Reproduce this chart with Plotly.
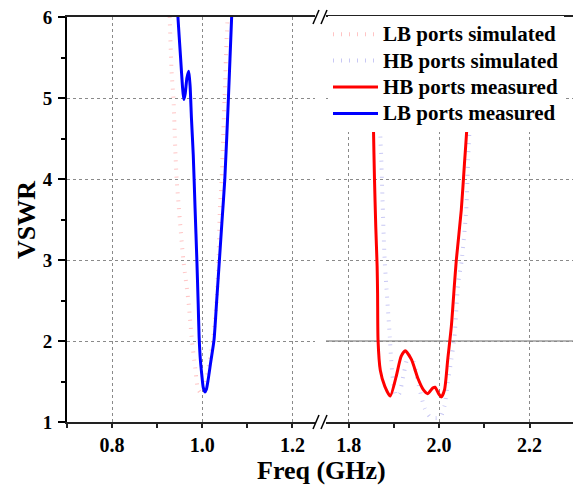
import plotly.graph_objects as go

# ---- data (GHz, VSWR) ----
lb_sim_f = [0.925, 0.928, 0.932, 0.936, 0.940, 0.943, 0.948, 0.958, 0.969, 0.977, 0.984, 0.991,
            0.999, 1.008, 1.017, 1.024, 1.032, 1.036, 1.039, 1.043, 1.047, 1.050, 1.054, 1.058]
lb_sim_v = [6.4, 5.94, 5.32, 5.00, 4.38, 4.01, 3.65, 3.00, 2.51, 2.01, 1.68, 1.40,
            1.35, 1.50, 1.77, 2.01, 2.51, 3.00, 3.62, 4.00, 4.63, 5.08, 5.74, 6.2]

hb_sim_f = [1.868, 1.870, 1.872, 1.874, 1.877, 1.880, 1.883, 1.887, 1.891, 1.894, 1.898, 1.905,
            1.912, 1.922, 1.932, 1.940, 1.955, 1.968, 1.979, 1.992, 2.003, 2.012, 2.019, 2.027,
            2.034, 2.038, 2.042, 2.050, 2.060, 2.064, 2.067, 2.075]
hb_sim_v = [6.3, 4.54, 4.28, 3.90, 3.37, 2.96, 2.71, 2.38, 2.05, 1.77, 1.52, 1.32,
            1.35, 1.60, 1.82, 1.80, 1.45, 1.17, 1.07, 1.05, 1.06, 1.20, 1.48, 1.77,
            2.05, 2.38, 2.71, 3.00, 3.62, 4.23, 4.60, 6.3]

hb_meas_f = [1.850, 1.855, 1.857, 1.860, 1.863, 1.864, 1.865, 1.870, 1.880, 1.892, 1.905, 1.916,
             1.925, 1.939, 1.953, 1.965, 1.975, 1.986, 1.991, 2.000, 2.005, 2.012, 2.019, 2.027,
             2.034, 2.038, 2.049, 2.056, 2.061, 2.074, 2.078]
hb_meas_v = [6.3, 4.60, 4.03, 3.41, 2.92, 2.59, 2.01, 1.64, 1.44, 1.32, 1.56, 1.81,
             1.88, 1.77, 1.54, 1.40, 1.35, 1.42, 1.43, 1.34, 1.31, 1.40, 1.77, 2.18,
             2.71, 3.00, 3.62, 4.19, 4.60, 6.0, 6.4]

lb_meas_f = [0.940, 0.946, 0.952, 0.956, 0.959, 0.962, 0.966, 0.970, 0.973, 0.976, 0.980, 0.984,
             0.988, 0.991, 0.993, 0.996, 0.999, 1.002, 1.006, 1.009, 1.013, 1.019, 1.026, 1.032,
             1.038, 1.044, 1.050, 1.058, 1.065, 1.070]
lb_meas_v = [6.6, 6.0, 5.49, 5.15, 4.98, 5.05, 5.25, 5.33, 5.15, 4.75, 4.30, 3.64,
             3.00, 2.45, 2.05, 1.75, 1.58, 1.43, 1.37, 1.40, 1.52, 1.75, 2.01, 2.50,
             3.00, 3.50, 4.00, 5.00, 5.98, 6.6]

names = ["LB ports simulated", "HB ports simulated", "HB ports measured", "LB ports measured"]

FONT = "Liberation Serif"
W, H = 573, 485
ML, MR, MT, MB = 67, 0, 17, 63
PW = W - ML - MR
PH = H - MT - MB


def px_x(px):
    return (px - ML) / PW


def px_y(py):
    return (H - MB - py) / PH


def leg(name):
    return "<span style='font-size:21px'>" + name + "</span>"


fig = go.Figure()
fig.add_trace(go.Scatter(x=lb_sim_f, y=lb_sim_v, name=leg(names[0]), mode="lines", xaxis="x", yaxis="y",
                         line=dict(color="#ffc4c4", width=4, dash="1px,7px", shape="spline", smoothing=0.6)))
fig.add_trace(go.Scatter(x=hb_sim_f, y=hb_sim_v, name=leg(names[1]), mode="lines", xaxis="x2", yaxis="y",
                         line=dict(color="#c8c8f4", width=4, dash="1px,7px", shape="spline", smoothing=0.6)))
fig.add_trace(go.Scatter(x=hb_meas_f, y=hb_meas_v, name=leg(names[2]), mode="lines", xaxis="x2", yaxis="y",
                         line=dict(color="#ff0000", width=3, shape="spline", smoothing=0.6)))
fig.add_trace(go.Scatter(x=lb_meas_f, y=lb_meas_v, name=leg(names[3]), mode="lines", xaxis="x", yaxis="y",
                         line=dict(color="#0000ff", width=3, shape="spline", smoothing=0.6)))

xcommon = dict(
    showline=True, linecolor="#222222", linewidth=2, mirror=True,
    ticks="outside", ticklen=4, tickwidth=1.5, tickcolor="#222222",
    showgrid=True, gridcolor="#8a8a8a", gridwidth=1, griddash="3px,3px",
    zeroline=False, tickformat=".1f", dtick=0.2, ticklabelstandoff=0,
    tickfont=dict(family=FONT, size=20, color="black", weight="bold"),
    minor=dict(dtick=0.1, ticks="outside", ticklen=4, tickwidth=1.5, tickcolor="#222222", showgrid=False),
    anchor="y",
)

fig.update_layout(
    width=W, height=H,
    margin=dict(l=ML, r=MR, t=MT, b=MB),
    paper_bgcolor="white", plot_bgcolor="white",
    showlegend=True,
    legend=dict(x=px_x(328), y=px_y(16), xanchor="left", yanchor="top",
                bgcolor="white", borderwidth=0, itemwidth=45,
                font=dict(family=FONT, size=18, color="black", weight="bold"),
                tracegroupgap=0),
    xaxis=dict(domain=[0, px_x(315)], range=[0.7, 1.25], tick0=0.8, **xcommon),
    xaxis2=dict(domain=[px_x(326), 1], range=[1.75, 1.75 + (W - 326) * 0.2 / 90.5], tick0=1.8, **xcommon),
    yaxis=dict(range=[1, 6], dtick=1, showline=True, linecolor="black", linewidth=2,
               ticks="outside", ticklen=7, tickwidth=1.5, tickcolor="black", ticklabelstandoff=2,
               showgrid=True, gridcolor="#8a8a8a", gridwidth=1, griddash="3px,3px", zeroline=False,
               tickfont=dict(family=FONT, size=19, color="black", weight="bold"),
               minor=dict(dtick=0.5, ticks="outside", ticklen=4, tickwidth=1.5, tickcolor="black", showgrid=False),
               domain=[0, 1]),
)

# reference line at VSWR = 2 on the high-band panel
fig.add_shape(type="line", xref="x2 domain", yref="y", x0=0, x1=1, y0=2, y1=2,
              line=dict(color="#b4b4b4", width=2), layer="below")

# axis break marks
for yb in (422, 17):
    for xb in (313, 321):
        fig.add_shape(type="line", xref="paper", yref="paper",
                      x0=px_x(xb), x1=px_x(xb + 6), y0=px_y(yb + 7), y1=px_y(yb - 7),
                      line=dict(color="black", width=1.5))

fig.add_annotation(text="Freq (GHz)", xref="paper", yref="paper", x=px_x(321), y=px_y(471),
                   xanchor="center", yanchor="middle", showarrow=False,
                   font=dict(family=FONT, size=26, color="black", weight="bold"))
fig.add_annotation(text="VSWR", xref="paper", yref="paper", x=px_x(26), y=px_y(220),
                   xanchor="center", yanchor="middle", showarrow=False, textangle=-90,
                   font=dict(family=FONT, size=26, color="black", weight="bold"))

fig.write_html("out.html")
